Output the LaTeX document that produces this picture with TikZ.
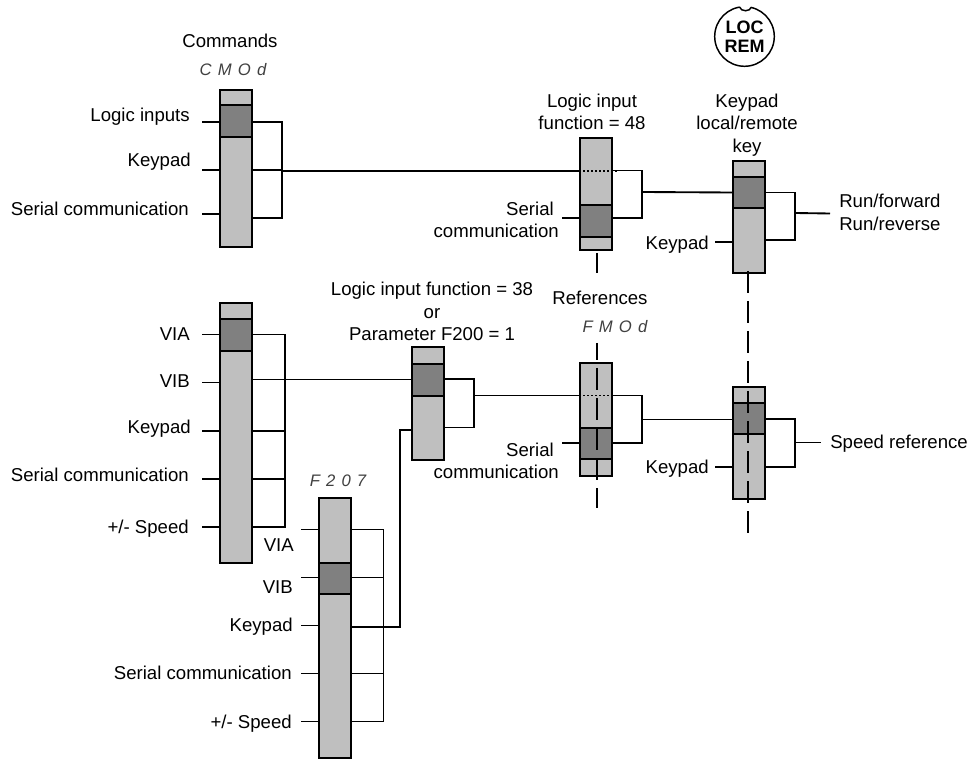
\documentclass[tikz,border=0pt]{standalone}
\usepackage{fontspec}
\setmainfont{Liberation Sans}
\newcommand{\pbar}[4]{\node[barnode,minimum height={(#4-#3)*0.75pt}] (#1) at (#2,{(#3+#4)/2}) {};}
\newcommand{\pseg}[4]{\node[segnode,minimum height={(#4-#3)*0.75pt}] (#1) at (#2,{(#3+#4)/2}) {};}
\tikzset{
  barnode/.style={draw=black,line width=1.5pt,fill=black!25,minimum width=24pt,inner sep=0pt},
  segnode/.style={draw=black,line width=1.5pt,fill=black!50,minimum width=24pt,inner sep=0pt},
  wire/.style={draw=black,line width=1.4pt},
  thinwire/.style={draw=black,line width=1pt},
  dotwire/.style={draw=black,line width=1pt,dash pattern=on 1.5pt off 1.5pt},
  longdash/.style={draw=black,line width=1.7pt,dash pattern=on 16.5pt off 6pt},
  lbl/.style={inner sep=0pt,font=\fontsize{13.95}{16.9}\selectfont},
  rlbl/.style={lbl,anchor=mid east,yshift=-2pt},
  slbl/.style={lbl,anchor=mid west,yshift=-2pt},
  segtext/.style={inner sep=0pt,text=black!75,font=\fontsize{12.5}{14}\selectfont\itshape},
}
\newcommand{\spc}{\hspace{4.6pt}}
\begin{document}
\begin{tikzpicture}[x=0.75pt,y=-0.75pt]
\useasboundingbox (0,0) rectangle (968,759);
% bars
\pbar{b1}{236}{90}{247}
\pseg{s1}{236}{105.5}{137}
\pbar{b2}{596}{138}{250}
\pseg{s2}{596}{205}{237}
\pbar{b3}{749}{161}{273}
\pseg{s3}{749}{177}{208}
\pbar{b4}{236}{303}{563}
\pseg{s4}{236}{319}{351}
\pbar{b5}{428}{347.5}{459.5}
\pseg{s5}{428}{364}{396}
\pbar{b6}{596}{363}{476}
\pseg{s6}{596}{428}{459}
\pbar{b7}{749}{387}{499}
\pseg{s7}{749}{403}{434}
\pbar{b8}{335}{498}{757.5}
\pseg{s8}{335}{563}{594}
% bus points
\coordinate (bus1) at (282,122);
\coordinate (bus2) at (642,170.5);
\coordinate (bus3) at (795,192.5);
\coordinate (bus4) at (285,334.5);
\coordinate (bus5) at (474,379);
\coordinate (bus6) at (642,395.5);
\coordinate (bus7) at (795,419);
\coordinate (bus8) at (383.5,529.5);
\coordinate (rise) at (400,430);
% left stubs
\foreach \b/\y in {b1/122,b1/170,b1/214,b2/218,b3/242,
                   b4/334.5,b4/382.5,b4/431,b4/479,b4/527,
                   b6/443,b7/467,
                   b8/529.5,b8/577.5,b8/625.5,b8/673.5,b8/721.5}
  \draw[wire] (\b.west |- 0,\y) -- ++(-17,0);
% bus 1
\draw[wire] (b1.east |- bus1) -- (bus1) -- (bus1 |- 0,218) -- (b1.east |- 0,218);
\draw[wire] (b1.east |- 0,170) -- (bus1 |- 0,170);
\draw[wire] (bus1 |- 0,171) -- (b2.west |- 0,171);
% bus 2
\draw[wire] (b2.east |- bus2) -- (bus2) -- (bus2 |- 0,218) -- (b2.east |- 0,218);
\draw[wire] (bus2 |- 0,192) -- (b3.west |- 0,192.5);
% bus 3
\draw[wire] (b3.east |- bus3) -- (bus3) -- (bus3 |- 0,240) -- (b3.east |- 0,240);
\draw[wire] (bus3 |- 0,213) -- (830,213.5);
% bus 4
\draw[wire] (b4.east |- bus4) -- (bus4) -- (bus4 |- 0,527) -- (b4.east |- 0,527);
\draw[wire] (b4.east |- 0,431) -- (bus4 |- 0,431);
\draw[wire] (b4.east |- 0,479) -- (bus4 |- 0,479);
\draw[thinwire] (b4.east |- 0,379.5) -- (b5.west |- 0,379.5);
\draw[wire] (b5.west |- 0,379.5) -- ++(-16,0);
% bus 5
\draw[wire] (b5.east |- bus5) -- (bus5) -- (bus5 |- 0,427.5) -- (b5.east |- 0,427.5);
\draw[wire] (bus5 |- 0,395.5) -- (b6.west |- 0,395.5);
% bus 6
\draw[wire] (b6.east |- bus6) -- (bus6) -- (bus6 |- 0,443) -- (b6.east |- 0,443);
\draw[wire] (bus6 |- 0,419.5) -- (b7.west |- 0,419.5);
% bus 7
\draw[wire] (b7.east |- bus7) -- (bus7) -- (bus7 |- 0,467) -- (b7.east |- 0,467);
\draw[wire] (bus7 |- 0,442.5) -- (821,442.5);
% bus 8
\draw[wire] (b8.east |- bus8) -- (bus8) -- (bus8 |- 0,721.5) -- (b8.east |- 0,721.5);
\draw[wire] (b8.east |- 0,577.5) -- (bus8 |- 0,577.5);
\draw[wire] (b8.east |- 0,673.5) -- (bus8 |- 0,673.5);
\draw[wire] (b8.east |- 0,627) -- (rise |- 0,627) -- (rise) -- (b5.west |- rise);
% dotted crossings
\draw[dotwire] (b2.west |- 0,171) -- (618,171);
\draw[dotwire] (b6.west |- 0,395.5) -- (621,395.5);
% long dashed lines
\coordinate (d1a) at (597,253);
\coordinate (d1b) at (597,273);
\coordinate (d2a) at (597,343);
\coordinate (d2b) at (597,508);
\coordinate (d3a) at (748,271);
\coordinate (d3b) at (748,538);
\draw[line width=1.7pt] (d1a) -- (d1b);
\draw[longdash,dash phase=3.75pt] (d2a) -- (d2b);
\draw[longdash] (d3a) -- (d3b);
% labels
\node[lbl] (tcmd) at (230,41) {Commands};
\node[segtext] (vcmd) at (233,70) {C\spc M\spc O\spc d};
\node[rlbl] (l1) at (190,115) {Logic inputs};
\node[rlbl] (l2) at (191,160) {Keypad};
\node[rlbl] (l3) at (189,209) {Serial communication};
\node[lbl,align=center] (l4) at (592,112) {Logic input\\function = 48};
\node[lbl,align=right,anchor=east] (l5) at (559,220) {Serial\hspace*{3.75pt}\\communication};
\node[lbl,align=center] (l6) at (747,125) {Keypad\\local/remote\\key};
\node[rlbl] (l7) at (709,243) {Keypad};
\node[lbl,align=left,anchor=west] (l8) at (839,212.5) {Run/forward\\Run/reverse};
\node[lbl,align=center] (l9) at (432,311.5) {Logic input function = 38\\or\\Parameter F200 = 1};
\node[lbl] (l10) at (600,298) {References};
\node[segtext] (vref) at (615,327) {F\spc M\spc O\spc d};
\node[rlbl] (l11) at (190,334) {VIA};
\node[rlbl] (l12) at (190,381) {VIB};
\node[rlbl] (l13) at (191,427) {Keypad};
\node[rlbl] (l14) at (189,475) {Serial communication};
\node[rlbl] (l15) at (189,527) {+/- Speed};
\node[segtext] (vf) at (338,481) {F\spc 2\spc 0\spc 7};
\node[rlbl] (l16) at (294,545) {VIA};
\node[rlbl] (l17) at (293,587) {VIB};
\node[rlbl] (l18) at (293,625) {Keypad};
\node[rlbl] (l19) at (292,673) {Serial communication};
\node[rlbl] (l20) at (292,722) {+/- Speed};
\node[lbl,align=right,anchor=east] (l21) at (559,461) {Serial\hspace*{3.75pt}\\communication};
\node[rlbl] (l22) at (709,467) {Keypad};
\node[slbl] (l23) at (830,442) {Speed reference};
% LOC/REM key
\node[circle,draw=black,line width=1.1pt,inner sep=0pt,minimum size={59.6*0.75pt},align=center,
      font=\fontsize{13.5}{14}\selectfont\bfseries] (key) at (744.5,36.5) {LOC\\REM};
\fill[white] (745.5,6) circle[radius=6];
\draw[line width=1.1pt] (739.5,7) .. controls (741,12) and (750,12) .. (751.5,7);
\end{tikzpicture}
\end{document}
